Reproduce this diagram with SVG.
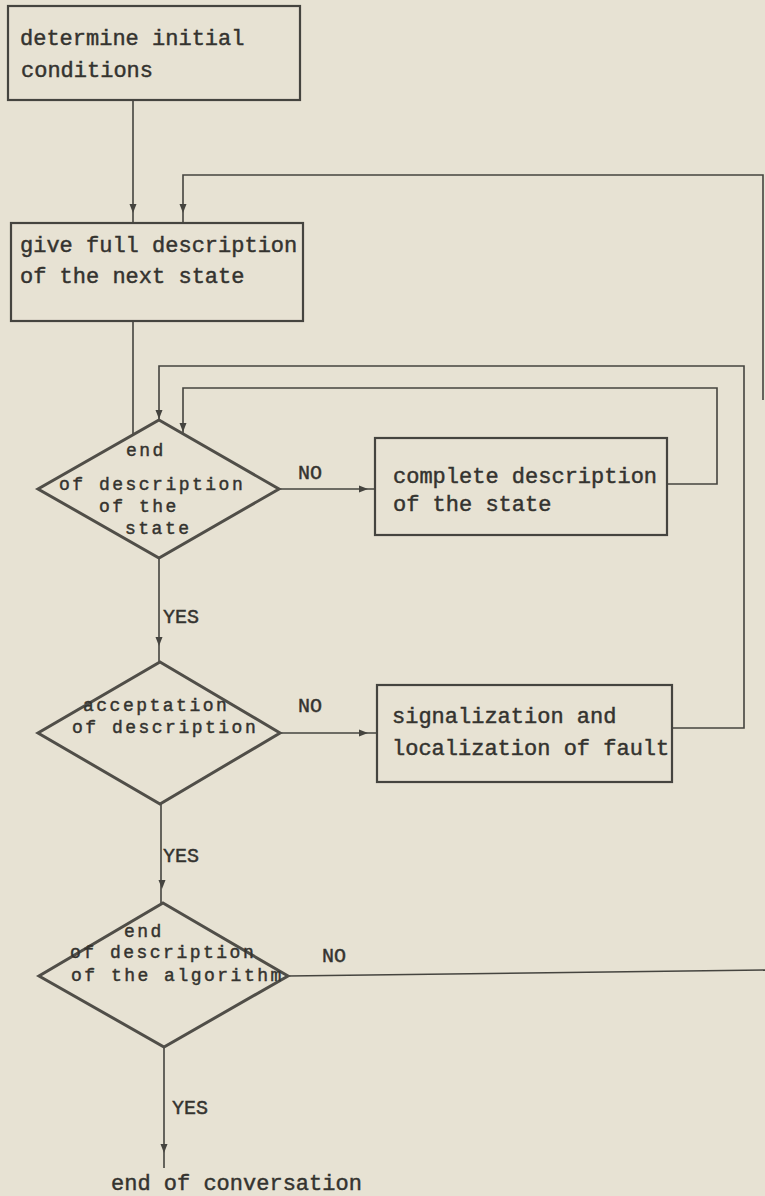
<svg xmlns="http://www.w3.org/2000/svg" width="765" height="1196" viewBox="0 0 765 1196">
<style>
.bg{fill:#e7e2d3}
.box{fill:none;stroke:#45443f;stroke-width:2.2}
.dia{fill:none;stroke:#504e48;stroke-width:3}
.ln{fill:none;stroke:#45443f;stroke-width:1.6}
.ah{fill:#45443f}
text{font-family:"Liberation Mono","DejaVu Sans Mono",monospace;font-size:22px;fill:#34332f;stroke:#34332f;stroke-width:0.45}
.lbl{font-size:20px}
.dt{font-size:18px;letter-spacing:2.5px}
</style>
<defs>
<path id="ad" class="ah" d="M-3.5,-9 L3.5,-9 L0,0 Z"/>
<path id="ar" class="ah" d="M-9,-3.5 L-9,3.5 L0,0 Z"/>
</defs>
<rect class="bg" x="0" y="0" width="765" height="1196"/>

<g id="connectors">
<path class="ln" d="M133,100 V223"/>
<path class="ln" d="M183,223 V175 H763 V400"/>
<path class="ln" d="M133,321 V435"/>
<path class="ln" d="M672,728 H744 V366 H159 V420"/>
<path class="ln" d="M667,484 H717 V388 H183 V434"/>
<path class="ln" d="M279,489 H375"/>
<path class="ln" d="M159,558 V662"/>
<path class="ln" d="M280,733 H377"/>
<path class="ln" d="M161,804 V903"/>
<path class="ln" d="M288,976 L765,970"/>
<path class="ln" d="M164,1047 V1168"/>
<use href="#ad" x="133" y="213"/>
<use href="#ad" x="183" y="213"/>
<use href="#ad" x="159" y="419"/>
<use href="#ad" x="183" y="432"/>
<use href="#ar" x="368" y="489"/>
<use href="#ad" x="159" y="646"/>
<use href="#ar" x="368" y="733"/>
<use href="#ad" x="162" y="889"/>
<use href="#ad" x="164" y="1153"/>
<text class="lbl" x="298" y="479">NO</text>
<text class="lbl" x="163" y="623">YES</text>
<text class="lbl" x="298" y="712">NO</text>
<text class="lbl" x="163" y="862">YES</text>
<text class="lbl" x="322" y="962">NO</text>
<text class="lbl" x="172" y="1114">YES</text>
</g>

<g id="n1">
<rect class="box" x="8" y="6" width="292" height="94"/>
<text x="20" y="45">determine initial</text>
<text x="21" y="77">conditions</text>
</g>
<g id="n2">
<rect class="box" x="11" y="223" width="292" height="98"/>
<text x="20" y="252">give full description</text>
<text x="20" y="283">of the next state</text>
</g>
<g id="n3">
<polygon class="dia" points="159,420 279,489 159,558 38,489"/>
<text class="dt" x="126" y="456">end</text>
<text class="dt" x="59" y="490">of description</text>
<text class="dt" x="99" y="512">of the</text>
<text class="dt" x="125" y="534">state</text>
</g>
<g id="n4">
<rect class="box" x="375" y="438" width="292" height="97"/>
<text x="393" y="483">complete description</text>
<text x="393" y="511">of the state</text>
</g>
<g id="n5">
<polygon class="dia" points="160,662 280,733 160,804 38,733"/>
<text class="dt" x="83" y="711">acceptation</text>
<text class="dt" x="72" y="733">of description</text>
</g>
<g id="n6">
<rect class="box" x="377" y="685" width="295" height="97"/>
<text x="392" y="723">signalization and</text>
<text x="392" y="755">localization of fault</text>
</g>
<g id="n7">
<polygon class="dia" points="163,903 288,976 164,1047 39,976"/>
<text class="dt" x="124" y="937">end</text>
<text class="dt" x="70" y="958">of description</text>
<text class="dt" x="71" y="981">of the algorithm</text>
</g>
<g id="n8">
<text x="111" y="1190">end of conversation</text>
</g>
</svg>
